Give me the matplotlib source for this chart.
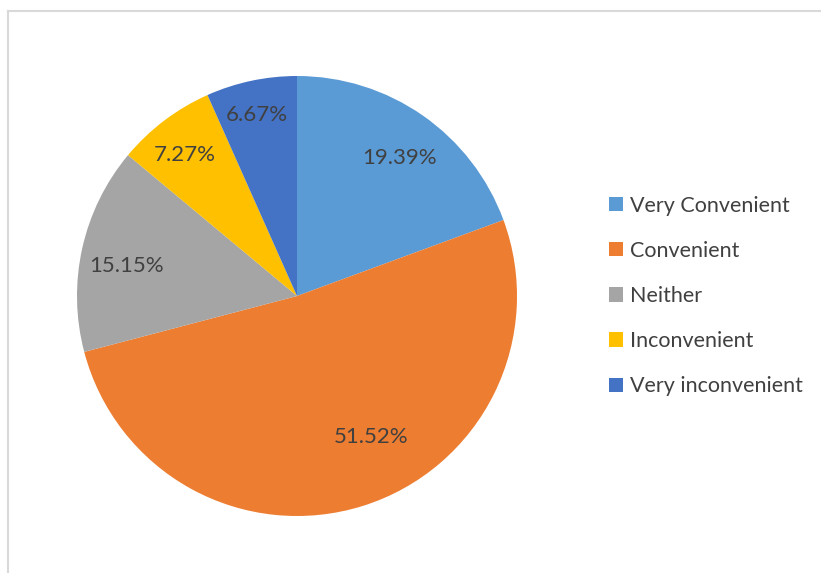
import numpy as np
import matplotlib.pyplot as plt
from matplotlib.lines import Line2D
from matplotlib.patches import Patch

categories = ['Very Convenient', 'Convenient', 'Neither', 'Inconvenient', 'Very inconvenient']
shares = [19.39, 51.52, 15.15, 7.27, 6.67]
colors = ['#5B9BD5', '#ED7D31', '#A5A5A5', '#FFC000', '#4472C4']
# label placement: radius fraction and angular nudge (deg) off the wedge bisector
label_dist = [0.783, 0.724, 0.785, 0.818, 0.843]
label_shift = [-1.8, 10.2, 2.5, 1.4, 0.5]

plt.rcParams['font.family'] = ['Lato', 'DejaVu Sans']
text_color = '#404040'

fig = plt.figure(figsize=(8.21, 5.73), dpi=100)
W, H = 821, 573

# chart frame (only top and left edges fall inside the canvas)
fig.add_artist(Line2D([8 / W, 1], [1 - 11 / H, 1 - 11 / H], color='#d9d9d9', lw=1.5))
fig.add_artist(Line2D([8 / W, 8 / W], [0, 1 - 11 / H], color='#d9d9d9', lw=1.5))

cx, cy, r = 297, 296, 220
ax = fig.add_axes([(cx - r) / W, (H - cy - r) / H, 2 * r / W, 2 * r / H])
wedges, _ = ax.pie(shares, colors=colors, startangle=90, counterclock=False,
                   radius=1, wedgeprops=dict(linewidth=0))
ax.set_xlim(-1, 1)
ax.set_ylim(-1, 1)
ax.set_aspect('equal')
ax.axis('off')

for w, v, d, s in zip(wedges, shares, label_dist, label_shift):
    ang = np.deg2rad((w.theta1 + w.theta2) / 2 + s)
    ax.text(d * np.cos(ang), d * np.sin(ang), f'{v:.2f}%', ha='center', va='center',
            fontsize=16, color=text_color)

handles = [Patch(facecolor=c, edgecolor='none') for c in colors]
fig.legend(handles, categories, loc='center left', bbox_to_anchor=(590 / W, 1 - 296 / H),
           frameon=False, fontsize=15.5, labelcolor=text_color, handlelength=0.65,
           handleheight=0.65, handletextpad=0.3, labelspacing=1.17)

fig.savefig('out.png', dpi=100)
